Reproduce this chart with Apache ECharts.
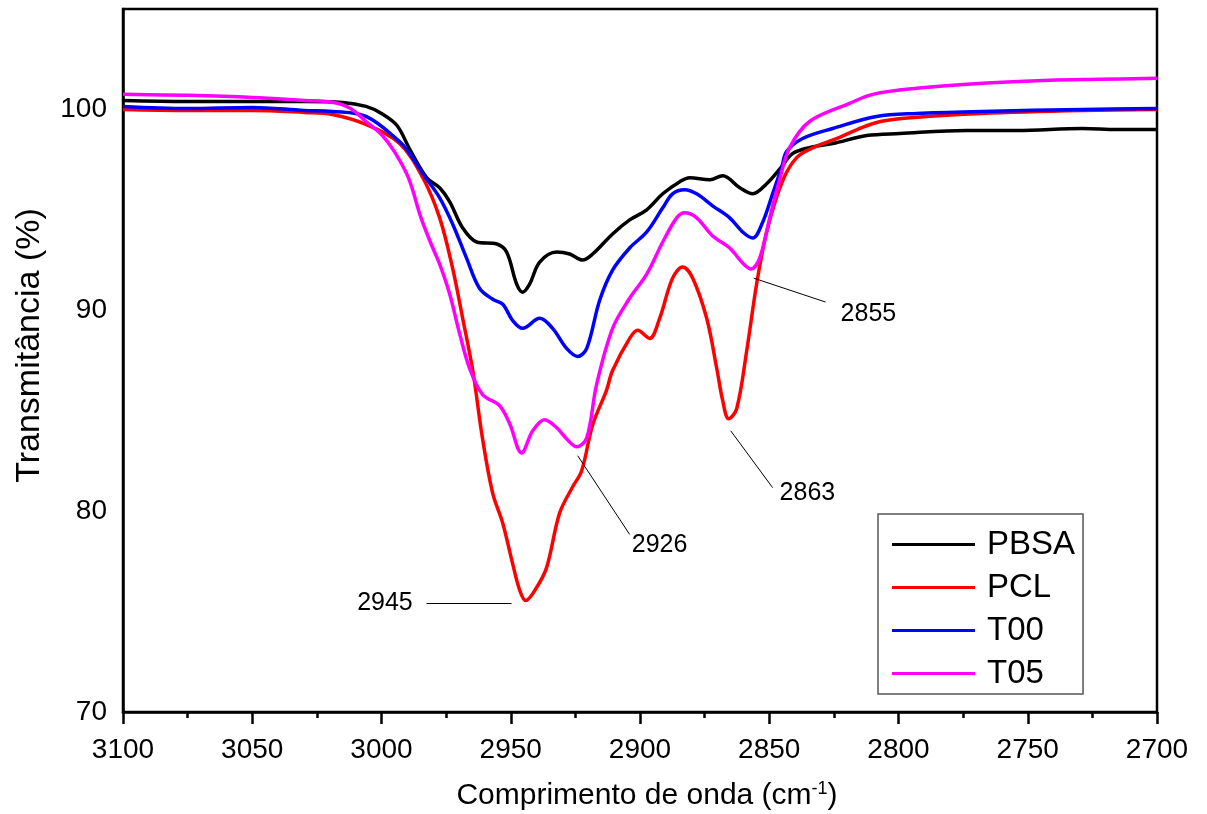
<!DOCTYPE html>
<html>
<head>
<meta charset="utf-8">
<title>FTIR</title>
<script src="https://cdn.jsdelivr.net/npm/echarts@6/dist/echarts.min.js"></script>
<style>
  html, body { margin: 0; padding: 0; background: #fff; }
  #chart { width: 1207px; height: 814px; }
</style>
</head>
<body>
<div id="chart"></div>
<script>
// wavenumber (cm-1) and transmittance (%)
const pbsaWave = [3100, 3075, 3050, 3030, 3015, 3006, 3000, 2994, 2989, 2982.5, 2977.5, 2973.6, 2968.6, 2963.2, 2955.4, 2951.6, 2947.7, 2945.4, 2942.7, 2938.8, 2932.2, 2927.2, 2922.2, 2918.3, 2910.6, 2904, 2897.4, 2891.2, 2884.6, 2880.8, 2873, 2868, 2861.4, 2856.4, 2851, 2845.5, 2841, 2834.4, 2825.5, 2812.3, 2799.5, 2773.6, 2754.3, 2728.7, 2715.6, 2700];
const pbsaT = [100.45, 100.4, 100.4, 100.4, 100.35, 100.15, 99.8, 99.2, 98.0, 96.6, 96.1, 95.4, 94.1, 93.4, 93.3, 92.9, 91.3, 90.9, 91.3, 92.4, 92.9, 92.8, 92.5, 92.8, 93.8, 94.5, 95.0, 95.8, 96.4, 96.6, 96.5, 96.7, 96.1, 95.8, 96.3, 97.1, 97.8, 98.1, 98.3, 98.7, 98.8, 98.95, 98.95, 99.05, 99.0, 99.0];

const pclWave = [3100, 3075, 3050, 3030, 3019, 3006, 2993, 2984, 2977.5, 2972.5, 2968.6, 2964.7, 2960.9, 2957, 2953.1, 2949.3, 2946.5, 2944.2, 2940, 2936.1, 2931.1, 2926.1, 2922.6, 2918.3, 2913, 2910.6, 2904, 2900.9, 2896.3, 2892.4, 2887.4, 2883.5, 2879.6, 2874.2, 2870.3, 2868, 2865.7, 2862.6, 2858.7, 2854.9, 2851, 2845, 2839.4, 2833, 2823, 2816, 2807, 2794, 2768, 2729, 2700];
const pclT = [100.0, 99.95, 99.95, 99.85, 99.75, 99.25, 98.3, 96.6, 94.6, 92.1, 89.6, 87.0, 83.6, 80.9, 79.4, 77.4, 76.05, 75.55, 76.2, 77.2, 79.9, 81.2, 82.0, 84.3, 86.0, 87.0, 88.6, 89.0, 88.6, 89.6, 91.6, 92.15, 91.6, 89.6, 87.1, 85.5, 84.6, 85.1, 88.0, 91.3, 93.9, 96.4, 97.6, 98.1, 98.6, 99.0, 99.4, 99.6, 99.8, 99.95, 100.0];

const t00Wave = [3100, 3075, 3050, 3030, 3019, 3006, 2993, 2989.6, 2984, 2977.5, 2972.5, 2967.1, 2962.1, 2957, 2953.1, 2949.3, 2945.4, 2938.8, 2933.8, 2928.4, 2924.1, 2920.6, 2915.6, 2910.6, 2904, 2897.4, 2891.2, 2887.4, 2882.7, 2878.1, 2871.9, 2865.3, 2860.3, 2856.4, 2852.5, 2848.7, 2845, 2843.3, 2837.1, 2825.5, 2808.5, 2793, 2767.5, 2728.7, 2700];
const t00T = [100.15, 100.05, 100.1, 99.95, 99.9, 99.65, 98.4, 97.9, 96.8, 95.6, 94.3, 92.6, 91.1, 90.55, 90.3, 89.5, 89.1, 89.6, 89.1, 88.1, 87.7, 88.1, 90.5, 92.0, 93.1, 93.9, 95.1, 95.8, 96.0, 95.8, 95.2, 94.6, 93.9, 93.6, 94.4, 95.8, 97.2, 97.9, 98.55, 99.05, 99.65, 99.8, 99.9, 100.0, 100.05];

const t05Wave = [3100, 3075, 3050, 3030, 3019, 3012, 3006, 3000, 2995, 2989.6, 2984.7, 2980.8, 2977.5, 2973.6, 2969.7, 2965.9, 2960.9, 2954.3, 2950.4, 2945.8, 2941.5, 2936.9, 2932.2, 2928.4, 2924.5, 2920.6, 2916.8, 2910.6, 2904, 2897.4, 2891.2, 2885.8, 2882.7, 2878.1, 2871.9, 2865.3, 2860.3, 2857.1, 2853.7, 2849.8, 2846, 2842.1, 2834.4, 2818.9, 2810, 2793, 2767.5, 2741.5, 2722.2, 2700];
const t05T = [100.75, 100.7, 100.6, 100.45, 100.36, 100.05, 99.4, 98.75, 97.9, 96.6, 94.6, 93.3, 92.3, 90.8, 88.8, 87.1, 85.8, 85.25, 84.35, 82.9, 84.0, 84.55, 84.15, 83.6, 83.2, 83.65, 86.3, 89.1, 90.6, 91.8, 93.4, 94.6, 94.85, 94.6, 93.7, 93.1, 92.35, 92.05, 92.6, 94.6, 96.5, 98.1, 99.4, 100.3, 100.75, 101.05, 101.3, 101.45, 101.5, 101.55];

const seriesNames = ['PBSA', 'PCL', 'T00', 'T05'];
const seriesColors = ['#000000', '#ff0000', '#0000ff', '#ff00ff'];

// peak labels: leader line [from, to] and text anchor, in data units
const annotLines = [
    [[2982.6, 75.4], [2949.7, 75.4]],
    [[2924.1, 82.76], [2904.0, 78.84]],
    [[2864.9, 84.0], [2848.7, 81.17]],
    [[2856.0, 91.6], [2828.2, 90.41]]
];
const annotTexts = ['2945', '2926', '2863', '2855'];
const annotAnchors = [[2987.9, 75.4], [2903.2, 78.3], [2846.0, 80.9], [2822.4, 89.8]];
const annotSides = ['left', 'right', 'right', 'right'];

const FONT = "'Liberation Sans', Arial, Helvetica, sans-serif";

function pairs(xs, ys) {
    return xs.map(function (x, i) { return [x, ys[i]]; });
}

const waves = [pbsaWave, pclWave, t00Wave, t05Wave];
const values = [pbsaT, pclT, t00T, t05T];

const series = seriesNames.map(function (name, i) {
    return {
        name: name,
        type: 'line',
        data: pairs(waves[i], values[i]),
        smooth: 0.35,
        symbol: 'none',
        lineStyle: { color: seriesColors[i], width: 3.5 },
        itemStyle: { color: seriesColors[i] },
        z: 3 + i
    };
});

// leader lines and peak numbers hang on the first series
series[0].markLine = {
    silent: true,
    symbol: ['none', 'none'],
    label: { show: false },
    lineStyle: { color: '#000', width: 1, type: 'solid' },
    data: annotLines.map(function (l) {
        return [{ coord: l[0] }, { coord: l[1] }];
    })
};
series[0].markPoint = {
    silent: true,
    symbol: 'circle',
    symbolSize: 0,
    data: annotTexts.map(function (t, i) {
        return {
            coord: annotAnchors[i],
            value: t,
            label: {
                show: true,
                position: annotSides[i],
                distance: 0,
                formatter: t,
                color: '#000',
                fontSize: 25,
                fontFamily: FONT
            }
        };
    })
};

const chart = echarts.init(document.getElementById('chart'), null, { renderer: 'canvas' });
chart.setOption({
    animation: false,
    backgroundColor: '#fff',
    grid: {
        left: 123, right: 50, top: 9, bottom: 102,
        outerBoundsMode: 'none',
        containLabel: false,
        show: true, borderColor: '#000', borderWidth: 2.5
    },
    legend: {
        orient: 'vertical',
        left: 878,
        top: 514,
        padding: [14, 8, 4, 14],
        icon: 'rect',
        itemWidth: 83,
        itemHeight: 3,
        itemGap: 10,
        borderColor: '#555',
        borderWidth: 1.5,
        backgroundColor: '#fff',
        textStyle: {
            fontSize: 33, lineHeight: 33, color: '#000', fontFamily: FONT,
            padding: [0, 0, 0, 7]
        },
        data: seriesNames
    },
    xAxis: {
        type: 'value',
        inverse: true,
        min: 2700,
        max: 3100,
        interval: 50,
        name: 'Comprimento de onda (cm{sup|-1})',
        nameLocation: 'middle',
        nameGap: 68,
        nameTextStyle: {
            fontSize: 30, color: '#000', fontFamily: FONT,
            padding: [0, 0, 0, 14],
            rich: {
                sup: { fontSize: 18, color: '#000', fontFamily: FONT, verticalAlign: 'top', padding: [0, 0, 14, 0] }
            }
        },
        axisLine: { show: true, lineStyle: { color: '#000', width: 2.5 } },
        axisTick: { show: true, length: 12, lineStyle: { color: '#000', width: 2.5 } },
        minorTick: { show: true, splitNumber: 2, length: 6, lineStyle: { color: '#000', width: 2.5 } },
        splitLine: { show: false },
        axisLabel: {
            fontSize: 28, color: '#000', fontFamily: FONT, margin: 24,
            formatter: function (v) { return String(v); }
        }
    },
    yAxis: {
        type: 'value',
        min: 70,
        max: 105,
        interval: 10,
        name: 'Transmitância (%)',
        nameLocation: 'middle',
        nameGap: 76,
        nameTextStyle: {
            fontSize: 34, color: '#000', fontFamily: FONT,
            padding: [0, 0, 0, 30]
        },
        axisLine: { show: true, lineStyle: { color: '#000', width: 2.5 } },
        axisTick: { show: false },
        splitLine: { show: false },
        axisLabel: {
            fontSize: 28, color: '#000', fontFamily: FONT, margin: 16, showMaxLabel: false,
            formatter: function (v) { return String(v); }
        }
    },
    series: series
});
</script>
</body>
</html>
